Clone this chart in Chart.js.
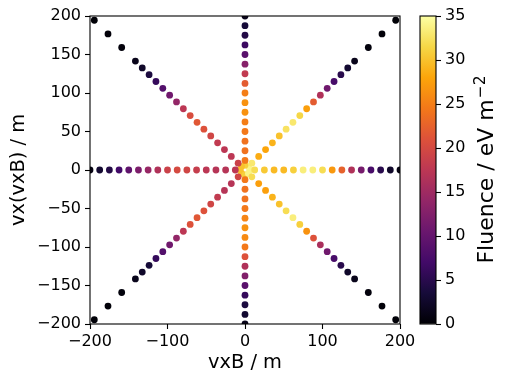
<!DOCTYPE html>
<html>
<head>
<meta charset="utf-8">
<script src="https://cdn.jsdelivr.net/npm/chart.js@4.4.0/dist/chart.umd.min.js"></script>
<style>
  html, body { margin: 0; padding: 0; background: #fff; }
  #wrap { position: relative; width: 508px; height: 383px; }
  #main { position: absolute; left: 0; top: 0; }
  #cbar { position: absolute; left: 400px; top: 0; }
</style>
</head>
<body>
<div id="wrap">
  <canvas id="main" width="508" height="383"></canvas>
  <canvas id="cbar" width="108" height="383"></canvas>
</div>
<script>
// antenna positions along the star arms (m)
const axisRadii = [12.5, 25, 37.5, 50, 62.5, 75, 87.5, 100, 112.5, 125, 137.5, 150, 162.5, 175, 187.5, 200];
const diagRadii = [12.5, 25, 37.5, 50, 62.5, 75, 87.5, 100, 112.5, 125, 137.5, 150, 162.5, 175, 187.5, 200, 225, 250, 275];
const innerRadius = 6.25;

// fluence per arm (eV m^-2)
const fluenceE  = [32, 30.5, 29.5, 29.5, 31, 33.5, 33.5, 32, 27, 22.5, 16.5, 11.5, 7.5, 5, 2.5, 1];
const fluenceNE = [33, 28.5, 28, 29, 30, 32.5, 33, 31.5, 27.5, 22, 16.5, 11, 7.5, 5, 3, 1.5, 0.5, 0.3, 0.2];
const fluenceN  = [24.5, 24, 24, 24.5, 25, 26.5, 26.5, 25, 22, 18, 13, 9, 6.5, 4.5, 3.5, 1.5];
const fluenceNW = [19, 17.5, 17.5, 18, 19.5, 21, 21.5, 20.5, 17.5, 14, 11, 8.5, 6, 4, 2.5, 1.5, 0.5, 0.3, 0.2];
const fluenceW  = [17.5, 17, 17, 17.5, 18.5, 19.5, 20, 19, 16.5, 14.3, 12, 9.5, 7, 4.5, 3, 1];
const fluenceSW = [19.5, 17, 17, 18, 19.5, 21, 21.5, 21, 17.5, 14, 11, 8.5, 6, 3.5, 2.5, 1.5, 0.5, 0.3, 0.2];
const fluenceS  = [24.5, 24, 24, 24.5, 25.5, 26.5, 26, 24.5, 21, 16.5, 12.5, 9, 6, 4, 3, 1.5];
const fluenceSE = [32, 27.5, 27.5, 29, 30, 32, 33.5, 31, 26.5, 21, 16, 11, 7.5, 5, 2.5, 1.5, 0.5, 0.3, 0.2];
// innermost ring: E, NE, N, NW, W, SW, S, SE
const fluenceInner = [34, 34, 31, 30, 30, 30, 31, 34];

const armAngles = [0, 45, 90, 135, 180, 225, 270, 315];
const armRadii = [axisRadii, diagRadii, axisRadii, diagRadii, axisRadii, diagRadii, axisRadii, diagRadii];
const armFluence = [fluenceE, fluenceNE, fluenceN, fluenceNW, fluenceW, fluenceSW, fluenceS, fluenceSE];

const fluenceMax = 35;
const xTickStep = 100;
const yTickStep = 50;
const cbarTickStep = 5;

const infernoStops = ['#000004', '#160b39', '#420a68', '#6a176e', '#932667', '#bc3754',
  '#dd513a', '#f37819', '#fca50a', '#f6d746', '#fcffa4'];

const hexToRgb = h => [1, 3, 5].map(i => parseInt(h.substr(i, 2), 16));

function inferno(t) {
  t = Math.min(1, Math.max(0, t));
  const p = t * 10;
  const i = Math.min(9, Math.floor(p));
  const f = p - i;
  const a = hexToRgb(infernoStops[i]);
  const b = hexToRgb(infernoStops[i + 1]);
  const c = a.map((v, k) => Math.round(v + (b[k] - v) * f));
  return `rgb(${c[0]}, ${c[1]}, ${c[2]})`;
}

const points = [];
const colors = [];
const addPoint = (r, angle, val) => {
  const a = angle * Math.PI / 180;
  points.push({ x: r * Math.cos(a), y: r * Math.sin(a) });
  colors.push(inferno(val / fluenceMax));
};
// inner ring first so the arms sit on top of it
armAngles.forEach((ang, j) => addPoint(innerRadius, ang, fluenceInner[j]));
armAngles.forEach((ang, j) => {
  armRadii[j].forEach((r, i) => addPoint(r, ang, armFluence[j][i]));
});

Chart.defaults.font.family = "'DejaVu Sans', sans-serif";
Chart.defaults.color = '#000';

const fmt = v => String(v).replace('-', '\u2212');

// full box round the plot area, like matplotlib spines
const frame = {
  id: 'frame',
  afterDraw(chart) {
    const { ctx, chartArea: a } = chart;
    ctx.save();
    ctx.strokeStyle = '#000';
    ctx.lineWidth = 1.1;
    ctx.strokeRect(a.left, a.top, a.right - a.left, a.bottom - a.top);
    ctx.restore();
  }
};

new Chart(document.getElementById('main'), {
  type: 'scatter',
  data: {
    datasets: [{
      data: points,
      pointBackgroundColor: colors,
      pointBorderColor: colors,
      pointBorderWidth: 0,
      pointRadius: 3.4,
      pointHoverRadius: 3.4,
      clip: 0
    }]
  },
  options: {
    responsive: false,
    animation: false,
    devicePixelRatio: 1,
    events: [],
    layout: { padding: { left: 0, right: 108, top: 16, bottom: 0 } },
    plugins: { legend: { display: false }, tooltip: { enabled: false } },
    scales: {
      x: {
        type: 'linear', min: -200, max: 200,
        afterFit: s => { s.height = 59; },
        ticks: { stepSize: xTickStep, padding: 3, maxRotation: 0, font: { size: 16 }, callback: fmt },
        grid: { drawOnChartArea: false, tickLength: 5, tickColor: '#000', tickWidth: 1.1 },
        border: { display: false },
        title: { display: true, text: 'vxB / m', font: { size: 19.4 }, padding: { top: 0, bottom: 8 } }
      },
      y: {
        type: 'linear', min: -200, max: 200,
        afterFit: s => { s.width = 90; },
        ticks: { stepSize: yTickStep, padding: 4, font: { size: 16 }, callback: fmt },
        grid: { drawOnChartArea: false, tickLength: 5, tickColor: '#000', tickWidth: 1.1 },
        border: { display: false },
        title: { display: true, text: 'vx(vxB) / m', font: { size: 19.4 }, padding: { top: 7, bottom: 0 } }
      }
    }
  },
  plugins: [frame]
});

// colour bar
const gradientFill = c => {
  const { chart } = c;
  const y = chart.scales.y;
  if (!chart.chartArea || !y) return infernoStops[5];
  const g = chart.ctx.createLinearGradient(0, y.getPixelForValue(0), 0, y.getPixelForValue(fluenceMax));
  infernoStops.forEach((s, i) => g.addColorStop(i / 10, s));
  return g;
};

const cbarLabel = {
  id: 'cbarLabel',
  afterDraw(chart) {
    const { ctx, chartArea: a } = chart;
    const main = 'Fluence / eV m';
    const sup = '\u22122';
    ctx.save();
    ctx.fillStyle = '#000';
    ctx.translate(a.right + 57, (a.top + a.bottom) / 2);
    ctx.rotate(-Math.PI / 2);
    ctx.textBaseline = 'alphabetic';
    ctx.textAlign = 'left';
    ctx.font = "22px 'DejaVu Sans'";
    const w1 = ctx.measureText(main).width;
    ctx.font = "15.5px 'DejaVu Sans'";
    const w2 = ctx.measureText(sup).width;
    const x0 = -(w1 + w2) / 2;
    ctx.font = "22px 'DejaVu Sans'";
    ctx.fillText(main, x0, 0);
    ctx.font = "15.5px 'DejaVu Sans'";
    ctx.fillText(sup, x0 + w1 + 1, -8.5);
    ctx.restore();
  }
};

new Chart(document.getElementById('cbar'), {
  type: 'bar',
  data: {
    labels: [''],
    datasets: [{
      data: [fluenceMax],
      backgroundColor: gradientFill,
      borderWidth: 0,
      barPercentage: 1,
      categoryPercentage: 1
    }]
  },
  options: {
    responsive: false,
    animation: false,
    devicePixelRatio: 1,
    events: [],
    layout: { padding: { left: 20, right: 0, top: 16, bottom: 59 } },
    plugins: { legend: { display: false }, tooltip: { enabled: false } },
    scales: {
      x: { display: false },
      y: {
        position: 'right', min: 0, max: fluenceMax,
        afterFit: s => { s.width = 72; },
        ticks: { stepSize: cbarTickStep, padding: 4, font: { size: 16 } },
        grid: { drawOnChartArea: false, tickLength: 5, tickColor: '#000', tickWidth: 1.1 },
        border: { display: false }
      }
    }
  },
  plugins: [frame, cbarLabel]
});
</script>
</body>
</html>
